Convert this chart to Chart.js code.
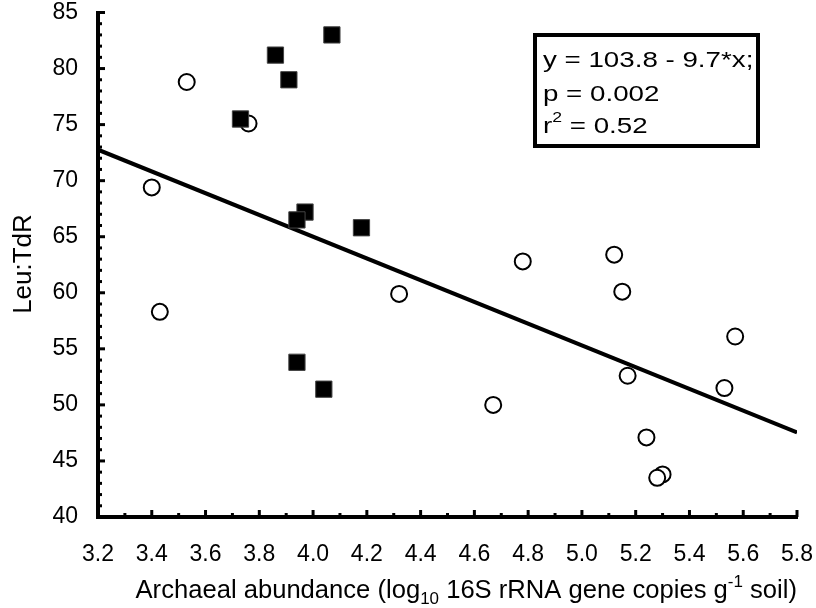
<!DOCTYPE html>
<html lang="en">
<head>
    <meta charset="UTF-8">
    <title>Leu:TdR vs archaeal abundance</title>
    <script src="https://cdn.jsdelivr.net/npm/chart.js@4.4.0/dist/chart.umd.min.js"></script>
    <style>
        html, body { margin: 0; padding: 0; background: #fff; }
        canvas { display: block; }
    </style>
</head>
<body>
    <canvas id="chart" width="816" height="608"></canvas>

    <script>
        // Open circles
        const circleX = [3.53, 3.76, 3.40, 3.43, 4.32, 4.78, 5.12, 5.15, 5.57, 5.17, 5.53, 4.67, 5.24, 5.30, 5.28];
        const circleY = [78.8, 75.1, 69.4, 58.3, 59.9, 62.8, 63.4, 60.1, 56.1, 52.6, 51.5, 50.0, 47.1, 43.8, 43.5];

        // Filled squares
        const squareX = [4.07, 3.86, 3.91, 3.73, 3.97, 3.94, 4.18, 3.94, 4.04];
        const squareY = [83.0, 81.2, 79.0, 75.5, 67.2, 66.5, 65.8, 53.8, 51.4];

        // Regression line endpoints
        const fitX = [3.2, 5.8];
        const fitY = [72.76, 47.54];

        const FONT = '"Liberation Sans", Arial, sans-serif';

        const toPoints = (xs, ys) => xs.map((x, i) => ({ x: x, y: ys[i] }));

        // tick marks inside the plot, major + minor
        const tickMarks = {
            id: 'tickMarks',
            afterDatasetsDraw(chart) {
                const ctx = chart.ctx;
                const xs = chart.scales.x, ys = chart.scales.y;
                const area = chart.chartArea;
                ctx.save();
                ctx.strokeStyle = '#000';
                ctx.lineWidth = 3;
                for (let i = 0; i <= 26; i++) {
                    const px = xs.getPixelForValue(3.2 + i * 0.1);
                    const len = i % 2 === 0 ? 7 : 4;
                    ctx.beginPath();
                    ctx.moveTo(px, area.bottom);
                    ctx.lineTo(px, area.bottom - len);
                    ctx.stroke();
                }
                for (let v = 40; v <= 85; v++) {
                    const py = ys.getPixelForValue(v);
                    const len = v % 5 === 0 ? 7 : 4;
                    ctx.beginPath();
                    ctx.moveTo(area.left, py);
                    ctx.lineTo(area.left + len, py);
                    ctx.stroke();
                }
                ctx.restore();
            }
        };

        // axis titles with sub/superscripts + stats box
        const extras = {
            id: 'extras',
            afterDraw(chart) {
                const ctx = chart.ctx;
                ctx.save();
                ctx.fillStyle = '#000';
                ctx.textBaseline = 'alphabetic';
                ctx.textAlign = 'left';

                // x title
                const parts = [
                    { t: 'Archaeal abundance (log' },
                    { t: '10', sub: true },
                    { t: ' 16S rRNA gene copies g' },
                    { t: '-1', sup: true },
                    { t: ' soil)' }
                ];
                const big = '25.6px ' + FONT, small = '17px ' + FONT;
                let total = 0;
                parts.forEach(p => {
                    ctx.font = (p.sub || p.sup) ? small : big;
                    p.w = ctx.measureText(p.t).width;
                    total += p.w;
                });
                let x = 797 - total;
                parts.forEach(p => {
                    ctx.font = (p.sub || p.sup) ? small : big;
                    let y = 598;
                    if (p.sub) y += 6;
                    if (p.sup) y -= 11;
                    ctx.fillText(p.t, x, y);
                    x += p.w;
                });

                // y title
                ctx.save();
                ctx.translate(31, 264);
                ctx.rotate(-Math.PI / 2);
                ctx.font = '26px ' + FONT;
                ctx.textAlign = 'center';
                ctx.fillText('Leu:TdR', 0, 0);
                ctx.restore();

                // stats box (text is wide in the original, so stretch it)
                ctx.lineWidth = 4;
                ctx.strokeStyle = '#000';
                ctx.strokeRect(535, 35, 223, 111);
                ctx.save();
                ctx.translate(543, 0);
                ctx.scale(1.26, 1);
                ctx.font = '22px ' + FONT;
                ctx.fillText('y = 103.8 - 9.7*x;', 0, 67);
                ctx.fillText('p = 0.002', 0, 101);
                ctx.fillText('r', 0, 133);
                const rw = ctx.measureText('r').width;
                ctx.font = '14px ' + FONT;
                ctx.fillText('2', rw, 122);
                const sw = ctx.measureText('2').width;
                ctx.font = '22px ' + FONT;
                ctx.fillText(' = 0.52', rw + sw, 133);
                ctx.restore();
                ctx.restore();
            }
        };

        new Chart(document.getElementById('chart'), {
            type: 'scatter',
            data: {
                datasets: [
                    {
                        type: 'line',
                        label: 'fit',
                        data: toPoints(fitX, fitY),
                        borderColor: '#000',
                        borderWidth: 4,
                        pointRadius: 0,
                        fill: false,
                        order: 3
                    },
                    {
                        label: 'circles',
                        data: toPoints(circleX, circleY),
                        pointStyle: 'circle',
                        pointRadius: 8,
                        backgroundColor: '#fff',
                        borderColor: '#000',
                        borderWidth: 2,
                        order: 2
                    },
                    {
                        label: 'squares',
                        data: toPoints(squareX, squareY),
                        pointStyle: 'rect',
                        pointRadius: 11.5,
                        backgroundColor: '#000',
                        borderColor: '#444',
                        borderWidth: 1,
                        order: 1
                    }
                ]
            },
            options: {
                responsive: false,
                animation: false,
                layout: { padding: { top: 10, right: 19, left: 0, bottom: 0 } },
                plugins: {
                    legend: { display: false },
                    tooltip: { enabled: false }
                },
                scales: {
                    x: {
                        type: 'linear',
                        min: 3.2,
                        max: 5.8,
                        afterFit: s => {
                            s.height = 91;
                            s.paddingLeft = 0;
                            s.paddingRight = 0;
                        },
                        grid: { display: false, drawTicks: false },
                        border: { display: true, color: '#000', width: 4 },
                        ticks: {
                            stepSize: 0.2,
                            autoSkip: false,
                            maxRotation: 0,
                            padding: 24,
                            color: '#000',
                            font: { family: FONT, size: 23 },
                            callback: v => v.toFixed(1)
                        }
                    },
                    y: {
                        min: 40,
                        max: 85,
                        afterFit: s => {
                            s.width = 98;
                            s.paddingTop = 0;
                            s.paddingBottom = 0;
                        },
                        grid: { display: false, drawTicks: false },
                        border: { display: true, color: '#000', width: 4 },
                        ticks: {
                            stepSize: 5,
                            padding: 20,
                            color: '#000',
                            font: { family: FONT, size: 23 }
                        }
                    }
                }
            },
            plugins: [tickMarks, extras]
        });
    </script>
</body>
</html>
